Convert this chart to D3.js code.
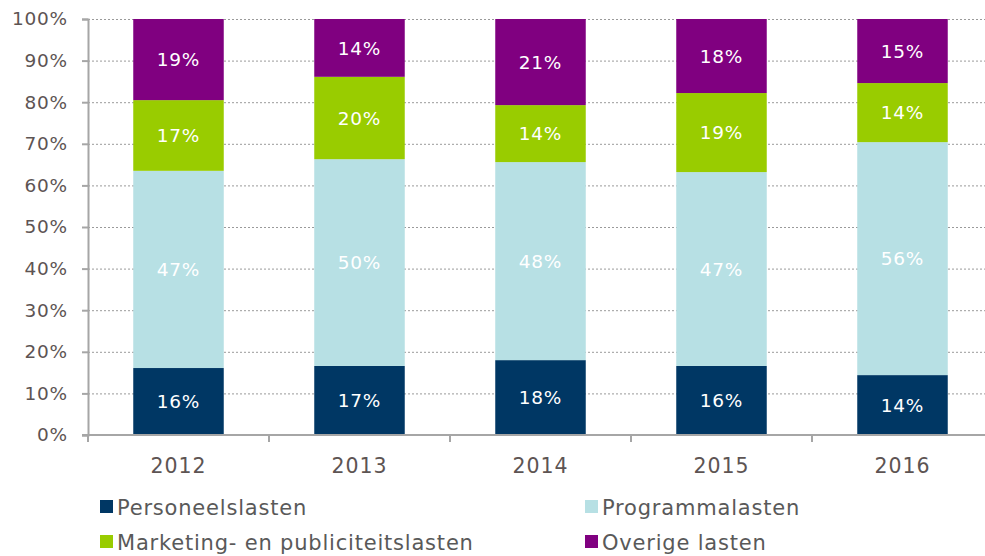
<!DOCTYPE html>
<html>
<head>
<meta charset="utf-8">
<script src="https://cdn.jsdelivr.net/npm/d3@7"></script>
<style>
body { margin: 0; background: #fff; }
text { font-family: "DejaVu Sans", Verdana, sans-serif; }
</style>
</head>
<body>
<div id="chart"></div>
<script>
// data
var years = ["2012", "2013", "2014", "2015", "2016"];
var seriesNames = ["Personeelslasten", "Programmalasten", "Marketing- en publiciteitslasten", "Overige lasten"];
var personeel = [16.1, 16.6, 18.0, 16.6, 14.4];
var programma = [47.4, 49.7, 47.6, 46.6, 56.0];
var marketing = [17.0, 19.8, 13.7, 19.0, 14.2];
var overige = [19.5, 13.9, 20.7, 17.8, 15.4];
var labelsPersoneel = ["16%", "17%", "18%", "16%", "14%"];
var labelsProgramma = ["47%", "50%", "48%", "47%", "56%"];
var labelsMarketing = ["17%", "20%", "14%", "19%", "14%"];
var labelsOverige = ["19%", "14%", "21%", "18%", "15%"];
var yTicks = [0, 10, 20, 30, 40, 50, 60, 70, 80, 90, 100];
var colors = ["#003764", "#b7e0e4", "#99cc00", "#800080"];

//setup
var W = 985, H = 556;
var margin = {top: 19, left: 88, bottom: 121};
var plotRight = 993;

const svg = d3.select("#chart").append("svg")
    .attr("width", W)
    .attr("height", H);

const x = d3.scaleBand()
    .domain(years)
    .range([margin.left, plotRight])
    .paddingInner(0.5)
    .paddingOuter(0.25);

const y = d3.scaleLinear()
    .domain([0, 100])
    .range([H - margin.bottom, margin.top]);

// gridlines
svg.append("g")
    .selectAll("line")
    .data(yTicks.slice(1))
    .enter().append("line")
    .attr("x1", margin.left)
    .attr("x2", W)
    .attr("y1", d => y(d) + 0.5)
    .attr("y2", d => y(d) + 0.5)
    .attr("stroke", "#9a9a9a")
    .attr("stroke-width", 1)
    .attr("stroke-dasharray", "2,2");

// stacked data
var rows = years.map(function (yr, i) {
    return {year: yr, s0: personeel[i], s1: programma[i], s2: marketing[i], s3: overige[i]};
});
var stack = d3.stack().keys(["s0", "s1", "s2", "s3"]);
var stacked = stack(rows);
var labelSets = [labelsPersoneel, labelsProgramma, labelsMarketing, labelsOverige];

const layers = svg.append("g")
    .selectAll("g")
    .data(stacked)
    .enter().append("g")
    .attr("fill", (d, i) => colors[i]);

layers.selectAll("rect")
    .data(d => d)
    .enter().append("rect")
    .attr("x", d => x(d.data.year))
    .attr("width", x.bandwidth())
    .attr("y", d => y(d[1]))
    .attr("height", d => y(d[0]) - y(d[1]));

stacked.forEach(function (layer, li) {
    svg.append("g")
        .selectAll("text")
        .data(layer)
        .enter().append("text")
        .attr("x", d => x(d.data.year) + x.bandwidth() / 2)
        .attr("y", d => y((d[0] + d[1]) / 2))
        .attr("dy", "0.36em")
        .attr("text-anchor", "middle")
        .attr("fill", "#fff")
        .attr("font-size", 18.5)
        .attr("letter-spacing", 0.8)
        .text((d, i) => labelSets[li][i]);
});

// y axis
const yAxis = d3.axisLeft(y)
    .tickValues(yTicks)
    .tickFormat(d => d + "%")
    .tickSize(6)
    .tickPadding(14);
const gy = svg.append("g")
    .attr("transform", "translate(" + margin.left + ",0)")
    .call(yAxis);
gy.select(".domain").attr("stroke", "#a6a6a6").attr("stroke-width", 2);
gy.selectAll(".tick line").attr("stroke", "#a6a6a6").attr("stroke-width", 2);
gy.selectAll(".tick text")
    .attr("fill", "#5d5453")
    .attr("font-size", 18.5)
    .attr("letter-spacing", 0.8)
    .style("font-family", "'DejaVu Sans', Verdana, sans-serif");

// x axis
const gx = svg.append("g")
    .attr("transform", "translate(0," + y(0) + ")");
gx.append("line")
    .attr("x1", margin.left - 6)
    .attr("x2", W)
    .attr("stroke", "#a6a6a6")
    .attr("stroke-width", 2);
var step = x.step();
var bounds = d3.range(years.length + 1).map(i => margin.left + i * step);
gx.selectAll(".xt")
    .data(bounds)
    .enter().append("line")
    .attr("x1", d => d)
    .attr("x2", d => d)
    .attr("y1", 0)
    .attr("y2", 7)
    .attr("stroke", "#a6a6a6")
    .attr("stroke-width", 2);
gx.selectAll(".xl")
    .data(years)
    .enter().append("text")
    .attr("x", d => x(d) + x.bandwidth() / 2)
    .attr("y", 38)
    .attr("text-anchor", "middle")
    .attr("fill", "#5d5453")
    .attr("font-size", 20.5)
    .attr("letter-spacing", 0.9)
    .text(d => d);

// legend
var legendPos = [[100, 507], [585, 507], [100, 542], [585, 542]];
const legend = svg.append("g");
seriesNames.forEach(function (name, i) {
    var p = legendPos[i];
    legend.append("rect")
        .attr("x", p[0])
        .attr("y", p[1] - 7)
        .attr("width", 13)
        .attr("height", 13)
        .attr("fill", colors[i]);
    legend.append("text")
        .attr("x", p[0] + 17)
        .attr("y", p[1])
        .attr("dy", "0.36em")
        .attr("fill", "#595959")
        .attr("font-size", 21)
        .attr("letter-spacing", 0.8)
        .text(name);
});
</script>
</body>
</html>
